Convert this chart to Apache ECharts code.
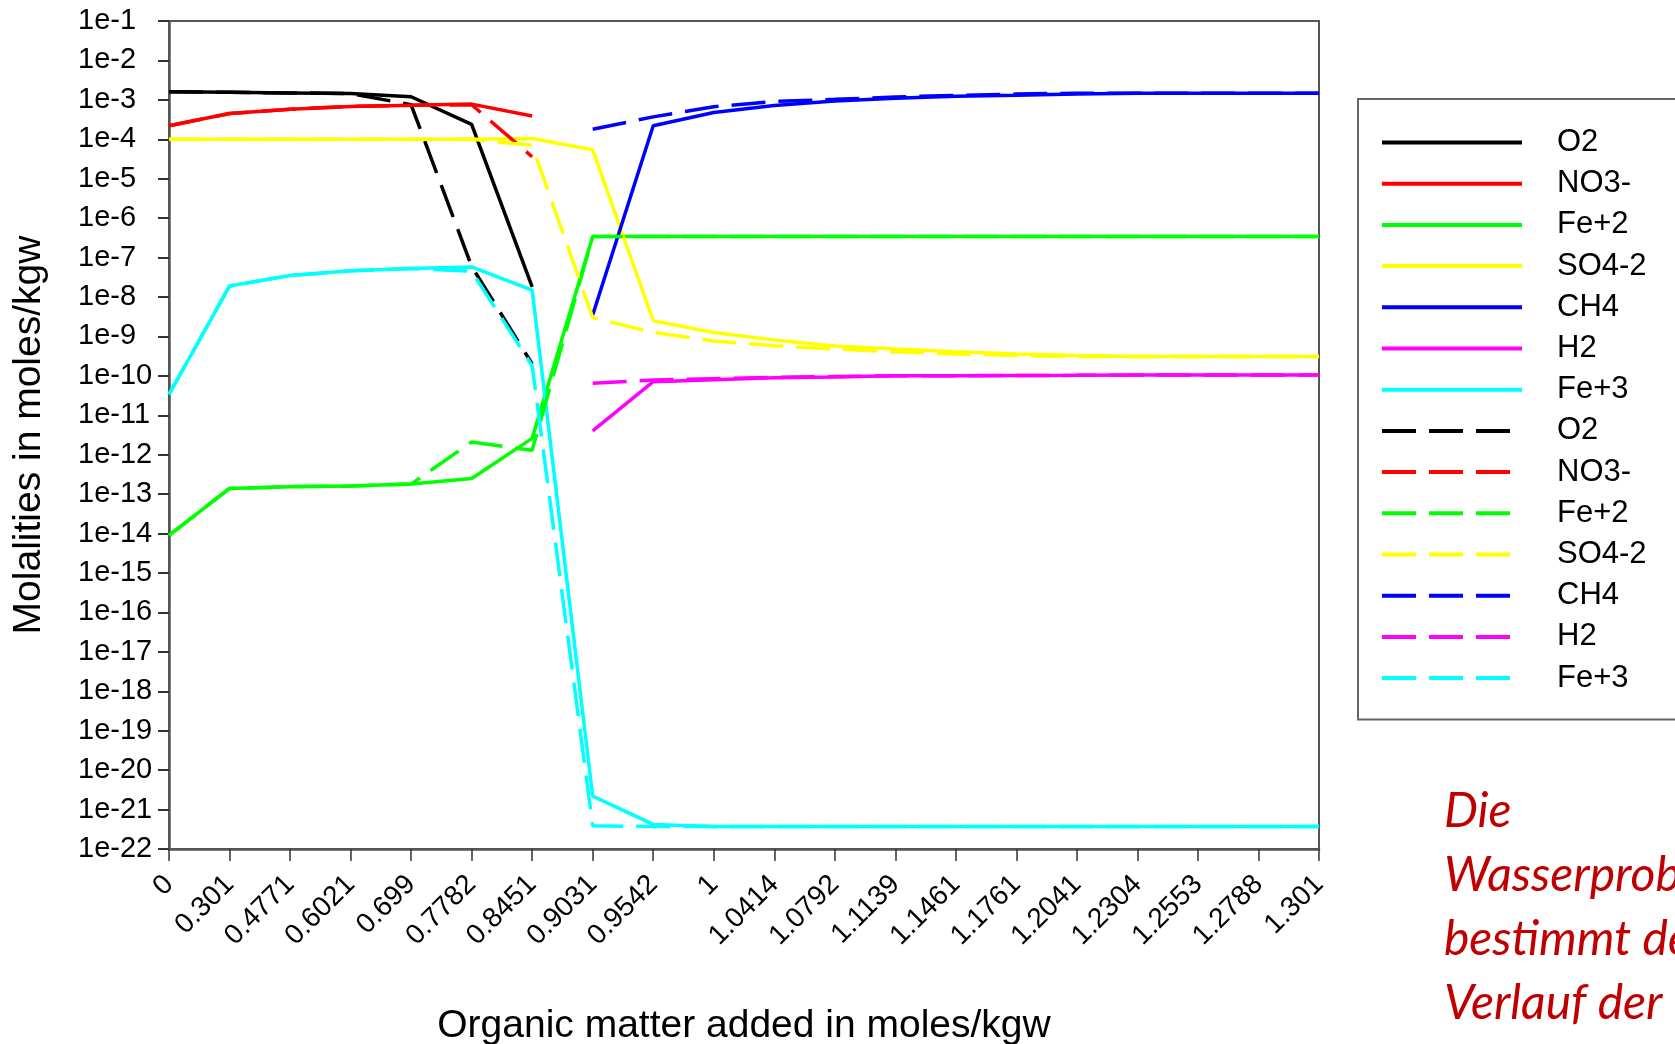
<!DOCTYPE html>
<html><head><meta charset="utf-8">
<script src="https://cdn.jsdelivr.net/npm/echarts@6/dist/echarts.min.js"></script>
<style>html,body{margin:0;padding:0;background:#fff;}#c{width:1675px;height:1044px;}</style>
</head><body><div id="c"></div>
<script>
const categories = ['0','0.301','0.4771','0.6021','0.699','0.7782','0.8451','0.9031','0.9542','1','1.0414','1.0792','1.1139','1.1461','1.1761','1.2041','1.2304','1.2553','1.2788','1.301'];
const speciesNames = ['O2','NO3-','Fe+2','SO4-2','CH4','H2','Fe+3'];
const speciesColors = ['#000000','#ff0000','#00ff00','#ffff00','#0000ff','#ff00ff','#00ffff'];
const N = null;

// solid curves (molalities, moles/kgw)
const o2Solid   = [1.6e-3,1.55e-3,1.5e-3,1.45e-3,1.2e-3,2.4e-4,1.8e-8,N,N,N,N,N,N,N,N,N,N,N,N,N];
const no3Solid  = [2.2e-4,4.5e-4,5.8e-4,6.8e-4,7.3e-4,7.8e-4,3.9e-4,N,N,N,N,N,N,N,N,N,N,N,N,N];
const fe2Solid  = [9e-15,1.4e-13,1.55e-13,1.6e-13,1.8e-13,2.5e-13,2.6e-12,3.4e-7,3.4e-7,3.4e-7,3.4e-7,3.4e-7,3.4e-7,3.4e-7,3.4e-7,3.4e-7,3.4e-7,3.4e-7,3.4e-7,3.4e-7];
const so4Solid  = [1e-4,1e-4,1e-4,1e-4,1e-4,1e-4,1.05e-4,5.4e-5,2.5e-9,1.26e-9,8.1e-10,5.7e-10,4.8e-10,4.1e-10,3.6e-10,3.3e-10,3.1e-10,3.1e-10,3.1e-10,3.1e-10];
const ch4Solid  = [N,N,N,N,N,N,N,3.5e-9,2.2e-4,4.8e-4,7.2e-4,9.3e-4,1.1e-3,1.23e-3,1.3e-3,1.4e-3,1.48e-3,1.48e-3,1.48e-3,1.48e-3];
const h2Solid   = [N,N,N,N,N,N,N,4e-12,7.1e-11,8e-11,8.9e-11,9.4e-11,1e-10,1e-10,1.02e-10,1.03e-10,1.05e-10,1.05e-10,1.05e-10,1.05e-10];
const fe3Solid  = [3.4e-11,1.9e-8,3.5e-8,4.6e-8,5.3e-8,5.8e-8,1.5e-8,2.2e-21,4.2e-22,3.7e-22,3.7e-22,3.7e-22,3.7e-22,3.7e-22,3.7e-22,3.7e-22,3.7e-22,3.7e-22,3.7e-22,3.7e-22];

// dashed curves
const o2Dashed  = [1.6e-3,1.55e-3,1.5e-3,1.45e-3,7.5e-4,6e-8,2e-10,N,N,N,N,N,N,N,N,N,N,N,N,N];
const no3Dashed = [2.2e-4,4.5e-4,5.8e-4,6.8e-4,7.3e-4,7.5e-4,3.6e-5,N,N,N,N,N,N,N,N,N,N,N,N,N];
const fe2Dashed = [9e-15,1.4e-13,1.55e-13,1.6e-13,1.8e-13,2.1e-12,1.3e-12,3.4e-7,3.4e-7,3.4e-7,3.4e-7,3.4e-7,3.4e-7,3.4e-7,3.4e-7,3.4e-7,3.4e-7,3.4e-7,3.4e-7,3.4e-7];
const so4Dashed = [1e-4,1e-4,1e-4,1e-4,1e-4,1e-4,7e-5,3e-9,1.26e-9,7.7e-10,5.8e-10,4.8e-10,4.1e-10,3.6e-10,3.3e-10,3.1e-10,3.1e-10,3.1e-10,3.1e-10,3.1e-10];
const ch4Dashed = [N,N,N,N,N,N,N,1.8e-4,3.7e-4,6.7e-4,9.1e-4,1.03e-3,1.18e-3,1.3e-3,1.4e-3,1.48e-3,1.48e-3,1.48e-3,1.48e-3,1.48e-3];
const h2Dashed  = [N,N,N,N,N,N,N,6.5e-11,7.8e-11,8.5e-11,9.2e-11,9.6e-11,1e-10,1e-10,1.02e-10,1.03e-10,1.05e-10,1.05e-10,1.05e-10,1.05e-10];
const fe3Dashed = [3.4e-11,1.9e-8,3.5e-8,4.6e-8,5.3e-8,4.5e-8,1.8e-10,3.9e-22,3.7e-22,3.7e-22,3.7e-22,3.7e-22,3.7e-22,3.7e-22,3.7e-22,3.7e-22,3.7e-22,3.7e-22,3.7e-22,3.7e-22];

// y-axis decades (exponents of 10) shown as tick labels 1e-22 ... 1e-1
const yExpMin = -22;
const yExpMax = -1;

const solidSets  = [o2Solid, no3Solid, fe2Solid, so4Solid, ch4Solid, h2Solid, fe3Solid];
const dashedSets = [o2Dashed, no3Dashed, fe2Dashed, so4Dashed, ch4Dashed, h2Dashed, fe3Dashed];

const noteLines = ['Die', 'Wasserprobe', 'bestimmt den', 'Verlauf der'];

const FONT = "'Liberation Sans', Arial, sans-serif";
const DASH = [34, 13];

// logarithmic plotting: the axis works on decades
const toDecades = arr => arr.map(v => (v == null ? null : Math.log10(v)));

const series = [];
speciesNames.forEach((n, i) => {
  series.push({
    name: n, type: 'line', data: toDecades(solidSets[i]), symbol: 'none', connectNulls: false,
    lineStyle: { color: speciesColors[i], width: 3.5, type: 'solid' },
    itemStyle: { color: speciesColors[i] }, silent: true
  });
});
speciesNames.forEach((n, i) => {
  series.push({
    name: n + ' ', type: 'line', data: toDecades(dashedSets[i]), symbol: 'none', connectNulls: false,
    lineStyle: { color: speciesColors[i], width: 3.5, type: DASH },
    itemStyle: { color: speciesColors[i] }, silent: true
  });
});

const chart = echarts.init(document.getElementById('c'), null, { renderer: 'canvas' });
chart.setOption({
  animation: false,
  backgroundColor: '#ffffff',
  textStyle: { fontFamily: FONT },
  grid: { left: 169, right: 356, top: 21, bottom: 195, containLabel: false, outerBoundsMode: 'none',
    show: true, borderColor: '#555', borderWidth: 2, backgroundColor: 'transparent' },
  xAxis: {
    type: 'category', data: categories, boundaryGap: false,
    axisLine: { lineStyle: { color: '#555', width: 2.5 } },
    axisTick: { show: true, length: 12, interval: 0, lineStyle: { color: '#333', width: 1.5 } },
    axisLabel: { rotate: 45, interval: 0, fontSize: 28, margin: 31, color: '#000', fontFamily: FONT },
    splitLine: { show: false },
    name: 'Organic matter added in moles/kgw', nameLocation: 'middle', nameGap: 158,
    nameTextStyle: { fontSize: 39, color: '#000', fontFamily: FONT }
  },
  yAxis: {
    type: 'value', min: yExpMin, max: yExpMax, interval: 1,
    axisLine: { show: true, lineStyle: { color: '#555', width: 2.5 } },
    axisTick: { show: true, length: 11, lineStyle: { color: '#333', width: 2 } },
    axisLabel: { fontSize: 29, color: '#000', align: 'left', margin: 91, fontFamily: FONT,
      formatter: v => '1e' + Math.round(v) },
    splitLine: { show: false }, minorTick: { show: false },
    name: 'Molalities in moles/kgw', nameLocation: 'middle', nameGap: 120, nameRotate: 90,
    nameTextStyle: { fontSize: 39, color: '#000', fontFamily: FONT }
  },
  legend: {
    orient: 'vertical', left: 1358, top: 99,
    padding: [28, 80, 26, 22],
    itemWidth: 140, itemHeight: 14, itemGap: 10.2,
    backgroundColor: '#fff', borderColor: '#666', borderWidth: 2, borderRadius: 0,
    selectedMode: false,
    itemStyle: { opacity: 0 },
    lineStyle: { width: 4 },
    textStyle: { fontSize: 31, lineHeight: 30, color: '#000', fontFamily: FONT, padding: [0, 0, 0, 30] },
    formatter: n => n.trim(),
    data: series.map(s => s.name)
  },
  graphic: [{
    type: 'text', left: 1444, top: 780, silent: true,
    style: { text: noteLines.join('\n'), font: "italic 48px Lato, 'Open Sans', sans-serif", fill: '#c00000', lineHeight: 64 }
  }],
  series: series
});
</script></body></html>
